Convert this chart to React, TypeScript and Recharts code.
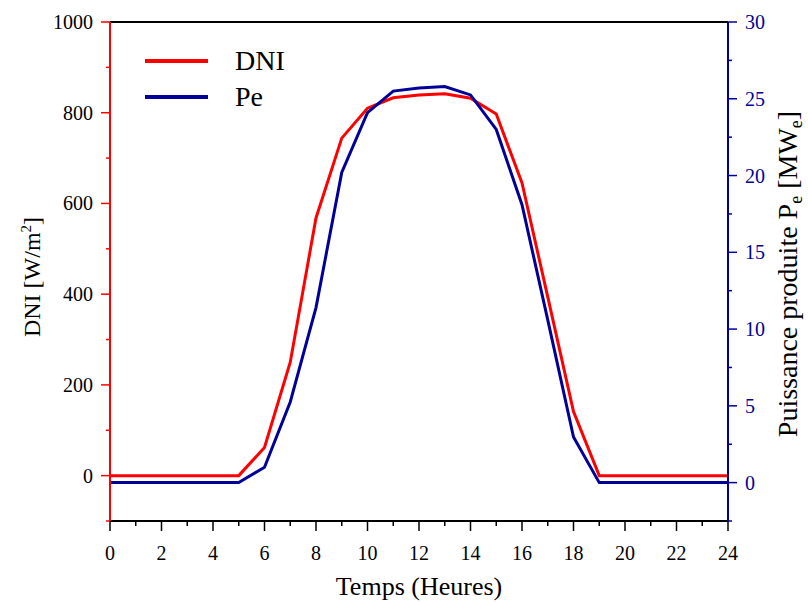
import { LineChart, Line, XAxis, YAxis, ReferenceLine } from "recharts";

const hours = [0, 1, 2, 3, 4, 5, 6, 7, 8, 9, 10, 11, 12, 13, 14, 15, 16, 17, 18, 19, 20, 21, 22, 23, 24];
const dniValues = [0, 0, 0, 0, 0, 0, 62, 250, 568, 744, 810, 833, 839, 842, 832, 797, 645, 394, 141, 0, 0, 0, 0, 0, 0];
const peValues = [0, 0, 0, 0, 0, 0, 1.0, 5.25, 11.4, 20.2, 24.1, 25.5, 25.7, 25.8, 25.25, 23.0, 18.1, 10.6, 2.97, 0, 0, 0, 0, 0, 0];

const dniTicks = [-100, 0, 100, 200, 300, 400, 500, 600, 700, 800, 900, 1000];
const peTicks = [-2.5, 0, 2.5, 5, 7.5, 10, 12.5, 15, 17.5, 20, 22.5, 25, 27.5, 30];

const RED = "#ff0000";
const BLUE = "#000099";
const FONT = '"Liberation Serif", "Times New Roman", serif';

const data = hours.map((h, i) => ({ hour: h, DNI: dniValues[i], Pe: peValues[i] }));

function XTick({ x, y, payload }: any) {
  const major = payload.value % 2 === 0;
  return (
    <g>
      <line x1={x} x2={x} y1={y} y2={y + (major ? 10 : 5)} stroke="#000" strokeWidth={1.5} />
      {major && (
        <text x={x} y={y + 39} textAnchor="middle" fontSize={20} fill="#000" style={{ fontFamily: FONT }}>
          {payload.value}
        </text>
      )}
    </g>
  );
}

function DniTick({ x, y, payload }: any) {
  const major = payload.value % 200 === 0 && payload.value >= 0;
  return (
    <g>
      <line x1={x} x2={x - (major ? 9 : 4)} y1={y} y2={y} stroke={RED} strokeWidth={1.5} />
      {major && (
        <text x={x - 17} y={y + 7} textAnchor="end" fontSize={20} fill="#000" style={{ fontFamily: FONT }}>
          {payload.value}
        </text>
      )}
    </g>
  );
}

function PeTick({ x, y, payload }: any) {
  const major = payload.value % 5 === 0 && payload.value >= 0;
  return (
    <g>
      <line x1={x} x2={x + (major ? 9 : 4)} y1={y} y2={y} stroke={BLUE} strokeWidth={1.5} />
      {major && (
        <text x={x + 17} y={y + 7} textAnchor="start" fontSize={20} fill={BLUE} style={{ fontFamily: FONT }}>
          {payload.value}
        </text>
      )}
    </g>
  );
}

export default function App() {
  return (
    <div style={{ position: "absolute", left: 0, top: 0, width: 808, height: 603, background: "#fff", fontFamily: FONT }}>
      <LineChart width={808} height={603} data={data} margin={{ top: 22, right: 0, bottom: 0, left: 0 }}>
        <XAxis
          dataKey="hour"
          type="number"
          domain={[0, 24]}
          ticks={hours}
          interval={0}
          height={82}
          tickSize={0}
          tickMargin={0}
          tickLine={false}
          tick={<XTick />}
          axisLine={{ stroke: "#000", strokeWidth: 2 }}
          label={{
            content: () => (
              <text x={419} y={595} textAnchor="middle" fontSize={26} fill="#000" style={{ fontFamily: FONT }}>
                Temps (Heures)
              </text>
            ),
          }}
        />
        <YAxis
          yAxisId="dni"
          orientation="left"
          type="number"
          domain={[-100, 1000]}
          ticks={dniTicks}
          interval={0}
          width={110}
          tickSize={0}
          tickMargin={0}
          tickLine={false}
          tick={<DniTick />}
          axisLine={{ stroke: RED, strokeWidth: 2 }}
          label={{
            content: () => (
              <text
                x={0}
                y={0}
                transform="translate(40,277) rotate(-90)"
                textAnchor="middle"
                fontSize={24}
                fill="#000"
                style={{ fontFamily: FONT }}
              >
                DNI [W/m
                <tspan dy={-9} fontSize={15}>2</tspan>
                <tspan dy={9}>]</tspan>
              </text>
            ),
          }}
        />
        <YAxis
          yAxisId="pe"
          orientation="right"
          type="number"
          domain={[-2.5, 30]}
          ticks={peTicks}
          interval={0}
          width={80}
          tickSize={0}
          tickMargin={0}
          tickLine={false}
          tick={<PeTick />}
          axisLine={{ stroke: BLUE, strokeWidth: 2 }}
          label={{
            content: () => (
              <text
                x={0}
                y={0}
                transform="translate(797,274) rotate(-90)"
                textAnchor="middle"
                fontSize={28}
                fill="#000"
                style={{ fontFamily: FONT }}
              >
                Puissance produite P
                <tspan dy={5} fontSize={18}>e</tspan>
                <tspan dy={-5}> [MW</tspan>
                <tspan dy={5} fontSize={18}>e</tspan>
                <tspan dy={-5}>]</tspan>
              </text>
            ),
          }}
        />
        <ReferenceLine yAxisId="dni" y={1000} stroke="#000" strokeWidth={2} />
        <Line
          yAxisId="dni"
          type="linear"
          dataKey="DNI"
          stroke={RED}
          strokeWidth={3}
          dot={false}
          isAnimationActive={false}
        />
        <Line
          yAxisId="pe"
          type="linear"
          dataKey="Pe"
          stroke={BLUE}
          strokeWidth={3}
          dot={false}
          isAnimationActive={false}
        />
      </LineChart>
      <div style={{ position: "absolute", left: 145, top: 43, fontSize: 28, lineHeight: "36px", color: "#000" }}>
        <div style={{ display: "flex", alignItems: "center", height: 36 }}>
          <span style={{ display: "inline-block", width: 63, height: 4, background: RED, marginRight: 27 }} />
          DNI
        </div>
        <div style={{ display: "flex", alignItems: "center", height: 36 }}>
          <span style={{ display: "inline-block", width: 63, height: 4, background: BLUE, marginRight: 27 }} />
          Pe
        </div>
      </div>
    </div>
  );
}
